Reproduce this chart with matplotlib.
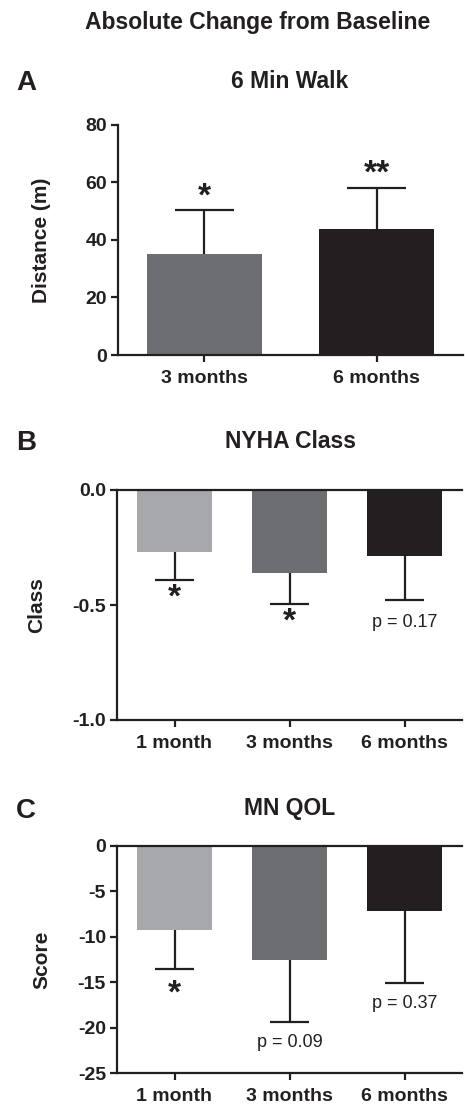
import matplotlib
matplotlib.use('Agg')
import matplotlib.pyplot as plt

plt.rcParams['font.family'] = ['Liberation Sans', 'DejaVu Sans']
plt.rcParams['axes.unicode_minus'] = False

# colours per time point
colors = {'1 month': '#a7a8ab', '3 months': '#6d6e71', '6 months': '#231f20'}

# panel A - 6 min walk
walk_labels = ['3 months', '6 months']
walk_mean = [35.2, 43.9]
walk_err = [15.2, 14.3]
walk_marks = ['*', '**']

# panel B - NYHA class
nyha_labels = ['1 month', '3 months', '6 months']
nyha_mean = [-0.27, -0.36, -0.285]
nyha_err = [0.12, 0.135, 0.195]
nyha_marks = ['*', '*', 'p = 0.17']

# panel C - MN QOL
qol_labels = ['1 month', '3 months', '6 months']
qol_mean = [-9.3, -12.6, -7.2]
qol_err = [4.3, 6.8, 7.85]
qol_marks = ['*', 'p = 0.09', 'p = 0.37']

W, H = 465, 1105
INK = '#231f20'
fig = plt.figure(figsize=(W / 100, H / 100), dpi=100)


def px_axes(left, top, right, bottom):
    return fig.add_axes([left / W, 1 - bottom / H, (right - left) / W, (bottom - top) / H])


def style(ax):
    for s in ['left', 'bottom', 'top', 'right']:
        ax.spines[s].set_linewidth(1.6)
        ax.spines[s].set_color(INK)
    ax.spines['right'].set_visible(False)
    ax.tick_params(width=1.6, length=5, color=INK, labelsize=14, pad=3)
    ax.tick_params(axis='x', pad=6)
    for t in ax.get_xticklabels() + ax.get_yticklabels():
        t.set_fontweight('bold')
        t.set_color(INK)


def errbars(ax, means, errs, up):
    # one sided error bars, away from zero
    for i, (m, e) in enumerate(zip(means, errs)):
        end = m + e if up else m - e
        ax.vlines(i, m, end, color=INK, lw=1.6)
        ax.hlines(end, i - 0.17, i + 0.17, color=INK, lw=1.6)


def marks(ax, means, errs, txts, up, star_off, p_off):
    for i, (m, e, t) in enumerate(zip(means, errs, txts)):
        end = m + e if up else m - e
        if t.startswith('p'):
            ax.annotate(t, (i, end), xytext=(0, p_off), textcoords='offset points',
                        ha='center', va='center', fontsize=13, color=INK)
        else:
            ax.annotate(t, (i, end), xytext=(0, star_off), textcoords='offset points',
                        ha='center', va='baseline', fontsize=24, fontweight='bold', color=INK)


def titles(ax, letter, title, y, ylabel, lab_x):
    fig.text(26 / W, 1 - (y + 2) / H, letter, ha='center', va='center', fontsize=20,
             fontweight='bold', color=INK)
    fig.text(290 / W, 1 - y / H, title, ha='center', va='center', fontsize=16.5,
             fontweight='bold', color=INK)
    ax.set_ylabel(ylabel, fontsize=15, fontweight='bold', color=INK)
    ax.yaxis.set_label_coords(lab_x, 0.5)


fig.text(258 / W, 1 - 22 / H, 'Absolute Change from Baseline', ha='center', va='center',
         fontsize=16.5, fontweight='bold', color=INK)

# ---- A
ax = px_axes(118, 125, 463, 355)
xs = list(range(len(walk_labels)))
ax.bar(xs, walk_mean, width=0.667, color=[colors[l] for l in walk_labels])
errbars(ax, walk_mean, walk_err, True)
ax.set_xlim(-0.5, 1.5)
ax.set_ylim(0, 80)
ax.set_yticks([0, 20, 40, 60, 80])
ax.set_xticks(xs)
ax.set_xticklabels(walk_labels)
ax.spines['top'].set_visible(False)
style(ax)
marks(ax, walk_mean, walk_err, walk_marks, True, 3.5, 0)
titles(ax, 'A', '6 Min Walk', 81, 'Distance (m)', -0.194)

# ---- B
ax = px_axes(117, 490, 462, 720)
xs = list(range(len(nyha_labels)))
ax.bar(xs, nyha_mean, width=0.66, color=[colors[l] for l in nyha_labels])
errbars(ax, nyha_mean, nyha_err, False)
ax.set_xlim(-0.5, 2.5)
ax.set_ylim(-1.0, 0.0)
ax.set_yticks([0.0, -0.5, -1.0])
ax.set_yticklabels(['0.0', '-0.5', '-1.0'])
ax.set_xticks(xs)
ax.set_xticklabels(nyha_labels)
style(ax)
marks(ax, nyha_mean, nyha_err, nyha_marks, False, -19.5, -16)
titles(ax, 'B', 'NYHA Class', 441, 'Class', -0.206)

# ---- C
ax = px_axes(117, 846, 462, 1073)
xs = list(range(len(qol_labels)))
ax.bar(xs, qol_mean, width=0.66, color=[colors[l] for l in qol_labels])
errbars(ax, qol_mean, qol_err, False)
ax.set_xlim(-0.5, 2.5)
ax.set_ylim(-25, 0)
ax.set_yticks([0, -5, -10, -15, -20, -25])
ax.set_xticks(xs)
ax.set_xticklabels(qol_labels)
style(ax)
marks(ax, qol_mean, qol_err, qol_marks, False, -24, -15)
titles(ax, 'C', 'MN QOL', 809, 'Score', -0.191)

fig.savefig('out.png', dpi=100)
